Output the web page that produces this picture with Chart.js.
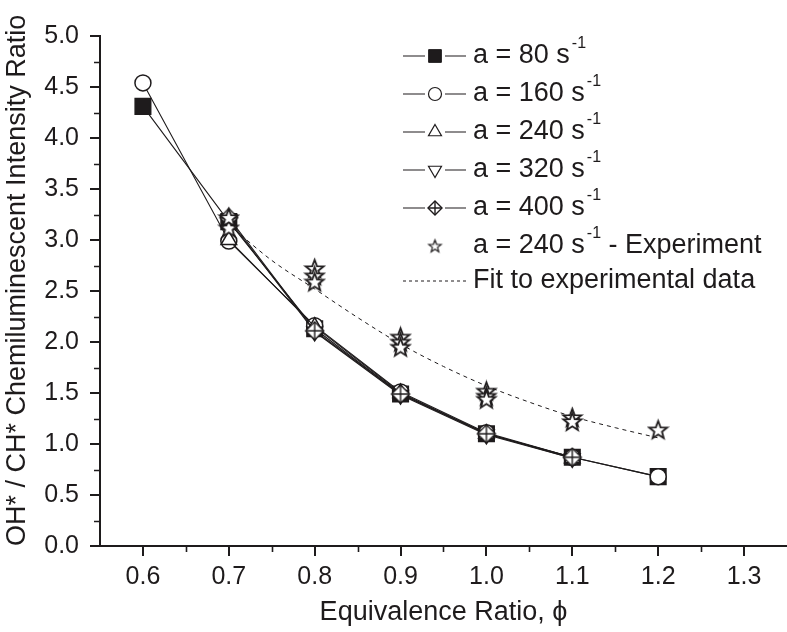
<!DOCTYPE html>
<html>
<head>
<meta charset="utf-8">
<script src="https://cdn.jsdelivr.net/npm/chart.js@4/dist/chart.umd.min.js"></script>
<style>
  html, body { margin: 0; padding: 0; background: #fff; }
  #wrap { width: 787px; height: 632px; }
</style>
</head>
<body>
<div id="wrap"><canvas id="chart" width="787" height="632"></canvas></div>
<script>
// equivalence ratio values
const phiSim = [0.6, 0.7, 0.8, 0.9, 1.0, 1.1, 1.2];
const phiShort = [0.7, 0.8, 0.9, 1.0, 1.1];
const phiExp = [0.7, 0.7, 0.8, 0.8, 0.8, 0.9, 0.9, 0.9, 1.0, 1.0, 1.0, 1.1, 1.1, 1.2];
const phiFit = [0.7, 0.75, 0.8, 0.85, 0.9, 0.95, 1.0, 1.05, 1.1, 1.15, 1.2];

// OH*/CH* ratios
const ratio80 = [4.31, 3.18, 2.13, 1.49, 1.10, 0.87, 0.68];
const ratio160 = [4.54, 2.99, 2.16, 1.51, 1.11, 0.87, 0.68];
const ratio240 = [3.00, 2.15, 1.50, 1.10, 0.86];
const ratio320 = [3.20, 2.10, 1.48, 1.09, 0.86];
const ratio400 = [3.22, 2.11, 1.49, 1.10, 0.87];
const ratioExp = [3.12, 3.22, 2.72, 2.65, 2.59, 2.05, 2.00, 1.95, 1.52, 1.47, 1.44, 1.26, 1.22, 1.14];
const ratioFit = [3.15, 2.80, 2.52, 2.24, 1.98, 1.76, 1.57, 1.41, 1.27, 1.16, 1.06];

const xTicks = [0.6, 0.7, 0.8, 0.9, 1.0, 1.1, 1.2, 1.3];
const xMinor = [0.65, 0.75, 0.85, 0.95, 1.05, 1.15, 1.25];
const yMinor = [0.25, 0.75, 1.25, 1.75, 2.25, 2.75, 3.25, 3.75, 4.25, 4.75];

const FONT = '"Liberation Sans", Arial, Helvetica, sans-serif';
const INK = '#1e1b1c';

const pts = (xs, ys) => xs.map((x, i) => ({ x: x, y: ys[i] }));

// small canvases used as point styles
function starImage(R, lw) {
  const s = Math.ceil(R * 2 + 4);
  const c = document.createElement('canvas');
  c.width = s; c.height = s;
  const g = c.getContext('2d');
  const r = R * 0.42;
  g.beginPath();
  for (let i = 0; i < 10; i++) {
    const a = -Math.PI / 2 + i * Math.PI / 5;
    const rr = i % 2 === 0 ? R : r;
    const px = s / 2 + rr * Math.cos(a), py = s / 2 + rr * Math.sin(a) + R * 0.08;
    if (i === 0) g.moveTo(px, py); else g.lineTo(px, py);
  }
  g.closePath();
  g.fillStyle = '#fff';
  g.fill();
  g.lineWidth = lw;
  g.strokeStyle = INK;
  g.stroke();
  return c;
}

function crossDiamondImage(R) {
  const s = Math.ceil(R * 2 + 4);
  const c = document.createElement('canvas');
  c.width = s; c.height = s;
  const g = c.getContext('2d');
  const m = s / 2;
  g.beginPath();
  g.moveTo(m, m - R); g.lineTo(m + R, m); g.lineTo(m, m + R); g.lineTo(m - R, m);
  g.closePath();
  g.fillStyle = '#fff';
  g.fill();
  g.lineWidth = 1.4;
  g.strokeStyle = INK;
  g.stroke();
  g.beginPath();
  g.moveTo(m, m - R); g.lineTo(m, m + R);
  g.moveTo(m - R, m); g.lineTo(m + R, m);
  g.stroke();
  return c;
}

const starBig = starImage(9.5, 1.8);
const starSmall = starImage(6.5, 1.2);
const diaBig = crossDiamondImage(9);
const diaSmall = crossDiamondImage(7);

const lineStyle = { borderColor: INK, borderWidth: 1.1, pointBorderColor: INK, pointBorderWidth: 1.5, pointBackgroundColor: '#fff', showLine: true, fill: false };

// minor ticks (Origin style)
const minorTicks = {
  id: 'minorTicks',
  afterDraw(chart) {
    const ctx = chart.ctx;
    const xs = chart.scales.x, ys = chart.scales.y;
    const area = chart.chartArea;
    ctx.save();
    ctx.strokeStyle = INK;
    ctx.lineWidth = 1.6;
    ctx.beginPath();
    yMinor.forEach(v => {
      const py = Math.round(ys.getPixelForValue(v)) + 0.5;
      ctx.moveTo(area.left - 6, py); ctx.lineTo(area.left, py);
    });
    xMinor.forEach(v => {
      const px = Math.round(xs.getPixelForValue(v)) + 0.5;
      ctx.moveTo(px, area.bottom); ctx.lineTo(px, area.bottom + 6);
    });
    ctx.stroke();
    ctx.restore();
  }
};

// legend inside the plot, line - marker - line samples
const legendRows = [
  { text: 'a = 80 s', sup: '-1', line: true, point: { pointStyle: 'rect', radius: 9, rotation: 0, borderWidth: 1 }, fill: INK },
  { text: 'a = 160 s', sup: '-1', line: true, point: { pointStyle: 'circle', radius: 6.5, rotation: 0, borderWidth: 1.2 }, fill: '#fff' },
  { text: 'a = 240 s', sup: '-1', line: true, point: { pointStyle: 'triangle', radius: 7.5, rotation: 0, borderWidth: 1.2 }, fill: '#fff' },
  { text: 'a = 320 s', sup: '-1', line: true, point: { pointStyle: 'triangle', radius: 7.5, rotation: 180, borderWidth: 1.2 }, fill: '#fff' },
  { text: 'a = 400 s', sup: '-1', line: true, point: { pointStyle: diaSmall, radius: 7, rotation: 0, borderWidth: 1 }, fill: '#fff' },
  { text: 'a = 240 s', sup: '-1', tail: ' - Experiment', line: false, point: { pointStyle: starSmall, radius: 7, rotation: 0, borderWidth: 1 }, fill: '#fff' },
  { text: 'Fit to experimental data', line: false, dash: true }
];
const legendY = [56, 94, 132, 170, 208, 246, 281];

const insideLegend = {
  id: 'insideLegend',
  afterDraw(chart) {
    const ctx = chart.ctx;
    ctx.save();
    legendRows.forEach((row, i) => {
      const y = legendY[i];
      ctx.strokeStyle = INK;
      if (row.line) {
        ctx.lineWidth = 1.1;
        ctx.beginPath();
        ctx.moveTo(403, y); ctx.lineTo(425, y);
        ctx.moveTo(445, y); ctx.lineTo(466, y);
        ctx.stroke();
      }
      if (row.dash) {
        ctx.lineWidth = 1;
        ctx.setLineDash([3, 3]);
        ctx.beginPath();
        ctx.moveTo(403, y); ctx.lineTo(466, y);
        ctx.stroke();
        ctx.setLineDash([]);
      }
      if (row.point) {
        ctx.fillStyle = row.fill;
        ctx.lineWidth = row.point.borderWidth;
        Chart.helpers.drawPoint(ctx, row.point, 435, y);
      }
      ctx.fillStyle = INK;
      ctx.textBaseline = 'middle';
      ctx.font = '27px ' + FONT;
      ctx.fillText(row.text, 473, y);
      let x = 473 + ctx.measureText(row.text).width;
      if (row.sup) {
        ctx.font = '16px ' + FONT;
        ctx.fillText(row.sup, x + 2, y - 12);
        x += 2 + ctx.measureText(row.sup).width;
      }
      if (row.tail) {
        ctx.font = '27px ' + FONT;
        ctx.fillText(row.tail, x, y);
      }
    });
    ctx.restore();
  }
};

new Chart(document.getElementById('chart'), {
  type: 'scatter',
  data: {
    datasets: [
      {
        label: 'a = 240 s-1 - Experiment',
        data: pts(phiExp, ratioExp),
        showLine: false,
        pointStyle: starBig,
        radius: 9,
        order: 0
      },
      {
        label: 'Fit to experimental data',
        data: pts(phiFit, ratioFit),
        showLine: true,
        borderColor: INK,
        borderWidth: 1,
        borderDash: [4, 4],
        cubicInterpolationMode: 'monotone',
        pointRadius: 0,
        order: 1
      },
      Object.assign({}, lineStyle, {
        label: 'a = 400 s-1',
        data: pts(phiShort, ratio400),
        pointStyle: diaBig,
        pointRadius: 9,
        order: 2
      }),
      Object.assign({}, lineStyle, {
        label: 'a = 320 s-1',
        data: pts(phiShort, ratio320),
        pointStyle: 'triangle',
        rotation: 180,
        pointRadius: 9,
        order: 3
      }),
      Object.assign({}, lineStyle, {
        label: 'a = 240 s-1',
        data: pts(phiShort, ratio240),
        pointStyle: 'triangle',
        pointRadius: 9,
        order: 4
      }),
      Object.assign({}, lineStyle, {
        label: 'a = 160 s-1',
        data: pts(phiSim, ratio160),
        pointStyle: 'circle',
        pointRadius: 8,
        order: 5
      }),
      Object.assign({}, lineStyle, {
        label: 'a = 80 s-1',
        data: pts(phiSim, ratio80),
        pointStyle: 'rect',
        pointRadius: 11,
        pointBackgroundColor: INK,
        order: 6
      })
    ]
  },
  options: {
    responsive: false,
    animation: false,
    layout: { autoPadding: false, padding: { top: 36, right: 0, bottom: 0, left: 0 } },
    plugins: {
      legend: { display: false },
      tooltip: { enabled: false }
    },
    scales: {
      x: {
        type: 'linear',
        min: 0.55,
        max: 1.35,
        afterFit: (scale) => { scale.height = 86; scale.paddingRight = 0; scale.paddingLeft = 0; },
        afterBuildTicks: (scale) => { scale.ticks = xTicks.map(v => ({ value: v })); },
        border: { display: true, color: INK, width: 2 },
        grid: { drawOnChartArea: false, drawTicks: true, tickLength: 10, tickColor: INK, lineWidth: 2 },
        ticks: {
          color: INK,
          font: { family: FONT, size: 25 },
          padding: 6,
          maxRotation: 0,
          callback: (v) => Number(v).toFixed(1)
        },
        title: {
          display: true,
          text: 'Equivalence Ratio, \u03d5',
          color: INK,
          font: { family: FONT, size: 27 },
          padding: { top: 0, bottom: 3 }
        }
      },
      y: {
        type: 'linear',
        min: 0,
        max: 5,
        afterFit: (scale) => { scale.width = 100; },
        border: { display: true, color: INK, width: 2 },
        grid: { drawOnChartArea: false, drawTicks: true, tickLength: 10, tickColor: INK, lineWidth: 2 },
        ticks: {
          stepSize: 0.5,
          color: INK,
          font: { family: FONT, size: 25 },
          padding: 11,
          callback: (v) => Number(v).toFixed(1)
        },
        title: {
          display: true,
          align: 'start',
          text: 'OH* / CH* Chemiluminescent Intensity Ratio',
          color: INK,
          font: { family: FONT, size: 27 },
          padding: { top: 1, bottom: 0 }
        }
      }
    }
  },
  plugins: [minorTicks, insideLegend]
});
</script>
</body>
</html>
